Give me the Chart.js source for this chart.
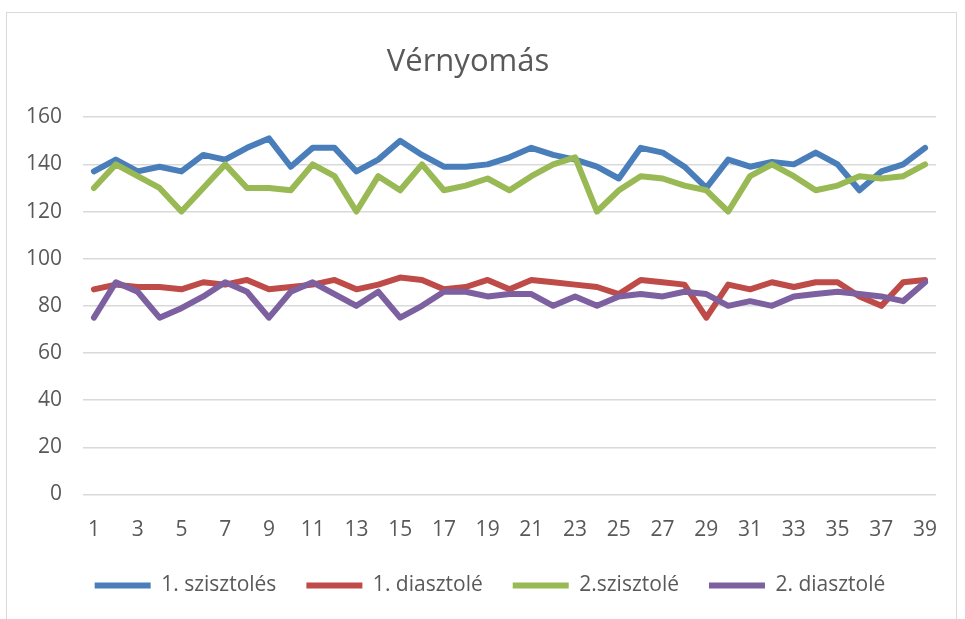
<!DOCTYPE html>
<html>
<head>
<meta charset="utf-8">
<script src="https://cdn.jsdelivr.net/npm/chart.js@4"></script>
<style>
  html, body { margin: 0; padding: 0; background: #ffffff; overflow: hidden; }
  #wrap { position: absolute; left: 0; top: 0; width: 965px; height: 619px; }
  #frame { position: absolute; left: 6px; top: 12px; width: 949px; height: 640px; border: 1.5px solid #d9d9d9; pointer-events: none; }
</style>
</head>
<body>
<div id="wrap"><canvas id="c" width="965" height="619"></canvas></div>
<div id="frame"></div>
<script>
const chartTitle = 'Vérnyomás';
const categories = ['1','2','3','4','5','6','7','8','9','10','11','12','13','14','15','16','17','18','19','20',
  '21','22','23','24','25','26','27','28','29','30','31','32','33','34','35','36','37','38','39'];
const seriesNames = ['1. szisztolés', '1. diasztolé', '2.szisztolé', '2. diasztolé'];
const sys1 = [137,142,137,139,137,144,142,147,151,139,147,147,137,142,150,144,139,139,140,143,
  147,144,142,139,134,147,145,139,130,142,139,141,140,145,140,129,137,140,147];
const dia1 = [87,89,88,88,87,90,89,91,87,88,89,91,87,89,92,91,87,88,91,87,
  91,90,89,88,85,91,90,89,75,89,87,90,88,90,90,84,80,90,91];
const sys2 = [130,140,135,130,120,130,140,130,130,129,140,135,120,135,129,140,129,131,134,129,
  135,140,143,120,129,135,134,131,129,120,135,140,135,129,131,135,134,135,140];
const dia2 = [75,90,86,75,79,84,90,86,75,86,90,85,80,86,75,80,86,86,84,85,
  85,80,84,80,84,85,84,86,85,80,82,80,84,85,86,85,84,82,90];
const yTicks = [0, 20, 40, 60, 80, 100, 120, 140, 160];
const colors = ['#4a7ebb', '#be4b48', '#98b954', '#7d60a0'];

const FONT = "'Open Sans', 'Noto Sans', sans-serif";
const TXT = '#595959';

function ds(label, data, color, order) {
  return {
    label, data, borderColor: color, backgroundColor: color,
    borderWidth: 6, pointRadius: 0, pointHoverRadius: 0, tension: 0,
    borderCapStyle: 'round', borderJoinStyle: 'round', fill: false, order
  };
}

const legendShift = {
  id: 'legendShift',
  afterLayout(chart) {
    if (chart.legend) { chart.legend.left += 44; }
  }
};

new Chart(document.getElementById('c'), {
  type: 'line',
  data: {
    labels: categories,
    datasets: [
      ds(seriesNames[0], sys1, colors[0], 4),
      ds(seriesNames[1], dia1, colors[1], 3),
      ds(seriesNames[2], sys2, colors[2], 2),
      ds(seriesNames[3], dia2, colors[3], 1)
    ]
  },
  plugins: [legendShift],
  options: {
    responsive: false,
    animation: false,
    devicePixelRatio: 1,
    layout: { padding: { left: 0, right: 29, top: 0, bottom: 13 } },
    plugins: {
      title: {
        display: true, text: chartTitle, color: TXT,
        font: { family: FONT, size: 31, weight: 'normal' },
        padding: { top: 44, bottom: 36 }
      },
      legend: {
        position: 'bottom',
        labels: {
          usePointStyle: true, pointStyle: 'line', pointStyleWidth: 56,
          color: TXT, font: { family: FONT, size: 21 }, padding: 30,
          sort: (a, b) => a.datasetIndex - b.datasetIndex
        }
      },
      tooltip: { enabled: false }
    },
    scales: {
      x: {
        type: 'category', offset: true,
        grid: { display: false, drawTicks: false },
        border: { display: false },
        ticks: {
          autoSkip: false, maxRotation: 0, minRotation: 0, padding: 23,
          color: TXT, font: { family: FONT, size: 21 },
          callback: function (v, i) { return i % 2 === 0 ? categories[i] : null; }
        },
        afterFit: (s) => { s.height = 50.5; }
      },
      y: {
        min: yTicks[0], max: yTicks[yTicks.length - 1],
        grid: { color: '#d9d9d9', lineWidth: 1.5, drawTicks: false },
        border: { display: false },
        ticks: {
          stepSize: yTicks[1] - yTicks[0], padding: 21,
          color: TXT, font: { family: FONT, size: 21 }
        },
        afterFit: (s) => { s.width = 83; }
      }
    }
  }
});
</script>
</body>
</html>
